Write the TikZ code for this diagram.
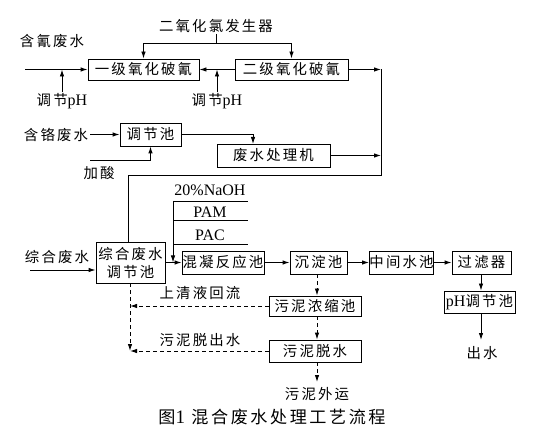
\documentclass[tikz,border=0pt]{standalone}
\usepackage{fontspec}
\setmainfont{Liberation Serif}
\newfontfamily\cjk[Scale=0.9,LetterSpace=15]{Noto Sans CJK SC}
\usetikzlibrary{arrows.meta,positioning}

\begin{document}
\begin{tikzpicture}[x=1pt,y=-1pt,>={Latex[length=7pt,width=4.5pt]},
  lbl/.style={font=\fontsize{16}{18}\selectfont\cjk, inner sep=1pt},
  box/.style={draw, line width=0.9pt, inner sep=0pt, minimum height=23pt,
    font=\fontsize{16}{18}\selectfont\cjk},
  line/.style={line width=0.9pt},
  back/.style={line width=0.9pt, dash pattern=on 4pt off 3pt}]
\useasboundingbox (0,0) rectangle (543,435);

% upper part: cyanide line
\node[lbl] (cyfs) at (52,41) {含氰废水};
\node[lbl] (clfsq) at (216,26) {二氧化氯发生器};
\node[box, minimum width=111pt, minimum height=21pt] (yiji) at (143.5,69.5) {一级氧化破氰};
\node[box, minimum width=113pt, minimum height=21pt] (erji) at (291.5,69.5) {二级氧化破氰};
\node[lbl] (ph1) at (62,101) {调节{\rmfamily pH}};
\node[lbl] (ph2) at (217,101) {调节{\rmfamily pH}};

% chromium line
\node[lbl] (hgfs) at (56,135) {含铬废水};
\node[box, minimum width=61pt] (tjc) at (150.5,134.5) {调节池};
\node[lbl] (jiasuan) at (99,173) {加酸};
\node[box, minimum width=113pt] (fscl) at (273.5,155.5) {废水处理机};

% main line
\node[lbl] (zhfs) at (57,257) {综合废水};
\node[box, minimum width=69pt, minimum height=41pt, align=center] (zhtj) at (130.5,262.5) {综合废水\\调节池};
\node[lbl] (naoh) at (210,190) {\rmfamily 20\%NaOH};
\node[lbl] (pam) at (210,212) {\rmfamily PAM};
\node[lbl] (pac) at (210,235) {\rmfamily PAC};
\node[box, minimum width=82pt] (hunning) at (223,262.5) {混凝反应池};
\node[box, minimum width=57pt] (chendian) at (318.5,262.5) {沉淀池};
\node[box, minimum width=63pt] (zhongjian) at (401.5,262.5) {中间水池};
\node[box, minimum width=59pt] (guolv) at (481.5,262.5) {过滤器};
\node[box, minimum width=71pt, minimum height=22pt] (phtj) at (479.5,302) {{\rmfamily pH}调节池};
\node[lbl] (chushui) at (482,353) {出水};

% sludge line
\node[box, minimum width=92pt, minimum height=20pt] (nongsuo) at (315,306) {污泥浓缩池};
\node[box, minimum width=92pt, minimum height=22pt] (tuoshui) at (315,351) {污泥脱水};
\node[lbl] (waiyun) at (317,394) {污泥外运};
\node[lbl] (huiliu) at (200,293) {上清液回流};
\node[lbl] (tuochu) at (200,340) {污泥脱出水};

\node[lbl, font=\fontsize{19}{21}\selectfont\cjk] (title) at (272,417) {图{\rmfamily 1} 混合废水处理工艺流程};

\coordinate (cyin) at (25,69.5);
\coordinate (fork) at (216,43);
\coordinate (rjoin1) at (381,69.5);
\coordinate (rjoin2) at (381,155.5);
\coordinate (rturn) at (381,175);
\coordinate (lturn) at (128,175);
\coordinate (hgin) at (90,134.5);
\coordinate (jsin) at (90,160);
\coordinate (fsin) at (253,144);
\coordinate (zhin) at (30,270);
\coordinate (yaoji) at (173,201);
\coordinate (chuout) at (481,340);
\coordinate (wyout) at (317,382);
\coordinate (hlbot) at (130,351);

\draw[line,->] (cyin) -- (yiji);
\draw[line] (clfsq.south) -- (fork);
\draw[line,->] (fork) -| (yiji.north);
\draw[line,->] (fork) -| (erji.north);
\draw[line,->] (ph1.north) -- (ph1.north |- cyin);
\draw[line,->] (ph2.north) -- (ph2.north |- erji.west);
\draw[line,->] (erji) -- (yiji);
\draw[line,->] (erji) -- (rjoin1);
\draw[line] (rjoin1) -- (rturn) -- (lturn) -- (zhtj.north -| lturn);

\draw[line,->] (hgin) -- (tjc);
\draw[line,->] (jsin) -| (tjc.south);
\draw[line,->] (tjc.east) -| (fsin);
\draw[line,->] (fscl) -- (rjoin2);

\draw[line,->] (zhin) -- (zhin -| zhtj.west);
\draw[line,->] (zhtj) -- (hunning);
\draw[line,->] (yaoji) -- (yaoji |- hunning.west);
\foreach \y in {201,220,244}
  \draw[line] (173,\y) -- (248,\y);
\draw[line,->] (hunning) -- (chendian);
\draw[line,->] (chendian) -- (zhongjian);
\draw[line,->] (zhongjian) -- (guolv);
\draw[line,->] (guolv.south -| chuout) -- (phtj.north -| chuout);
\draw[line,->] (phtj.south -| chuout) -- (chuout);

% sludge return (dashed)
\draw[back,->] (chendian.south -| wyout) -- (nongsuo.north -| wyout);
\draw[back,->] (nongsuo.south -| wyout) -- (tuoshui.north -| wyout);
\draw[back,->] (tuoshui.south -| wyout) -- (wyout);
\draw[back,->] (zhtj.south -| hlbot) -- (hlbot);
\draw[back,->] (nongsuo.west) -- (nongsuo.west -| hlbot);
\draw[back,->] (tuoshui.west) -- (hlbot);

\end{tikzpicture}
\end{document}
